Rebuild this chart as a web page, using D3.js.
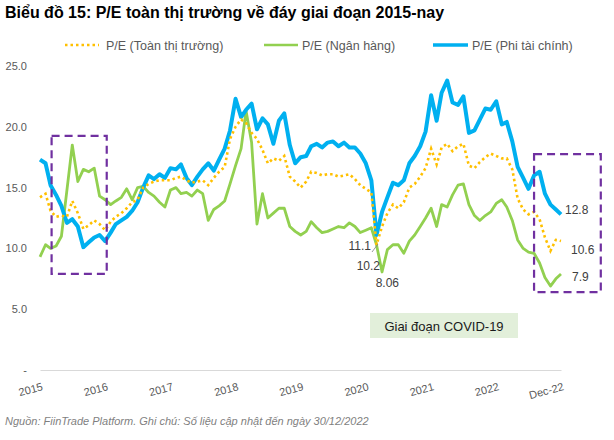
<!DOCTYPE html>
<html><head><meta charset="utf-8">
<script src="https://cdn.jsdelivr.net/npm/d3@7"></script>
<style>body{margin:0;background:#fff;} svg{display:block;font-family:"Liberation Sans",Arial,sans-serif;}</style>
</head><body><svg id="c" width="614" height="440"></svg>
<script>
// Categories: month starts Jan-2015 .. Dec-2022 plus last trading day 30/12/2022
const dates = d3.timeMonths(new Date(2015,0,1), new Date(2023,0,1)).concat([new Date(2022,11,30)]);

const peMarket = [14.2,14.5,13.1,12.6,12.7,12.6,13.9,12.9,11.6,11.9,12.3,12.0,
  11.5,12.2,12.6,12.9,13.3,13.8,14.0,15.0,15.3,15.5,15.6,15.6,
  15.6,15.8,15.9,15.6,15.4,15.5,15.6,15.2,15.8,16.3,16.7,19.0,
  20.0,20.6,20.3,19.5,19.0,18.1,17.0,17.4,17.2,17.6,15.9,15.5,
  15.0,15.5,16.3,16.2,16.0,16.1,16.1,15.9,16.0,16.1,15.7,15.2,
  14.9,14.6,10.3,11.8,12.9,13.6,13.3,13.8,15.0,15.3,15.9,16.6,
  18.2,16.9,18.3,18.6,18.0,18.4,18.6,16.8,16.6,17.1,17.5,17.8,
  17.6,17.4,17.4,16.5,14.1,13.2,12.8,13.0,12.4,10.9,9.8,10.7,10.6];

const peBanks = [9.3,10.3,10.0,10.2,11.0,14.8,18.5,15.5,16.5,16.3,16.6,14.3,
  14.0,13.6,13.9,14.2,14.9,14.0,15.0,15.1,14.6,14.3,13.8,13.4,
  14.8,15.0,14.5,14.6,14.3,14.8,14.5,12.3,13.2,13.5,13.9,15.3,
  16.8,18.2,21.3,18.7,12.0,14.5,12.5,12.9,13.3,13.3,11.8,11.4,
  11.1,11.4,12.2,11.7,11.3,11.4,11.6,11.8,11.7,12.1,11.8,11.3,
  11.5,11.7,10.3,8.06,9.9,10.3,10.3,9.6,10.6,11.1,11.8,12.5,
  13.3,11.8,13.6,13.4,14.4,15.2,15.3,13.6,12.7,12.3,12.7,13.0,
  13.7,14.0,13.4,12.3,10.7,10.0,9.7,9.6,8.8,7.6,6.9,7.5,7.9];

const peNonFin = [17.3,17.0,15.2,14.4,13.5,12.1,12.4,11.8,10.1,10.5,10.9,11.1,
  10.6,11.3,12.0,12.3,12.6,13.1,13.8,15.0,16.0,15.7,16.1,15.8,
  16.6,16.5,16.9,15.8,15.2,15.9,16.5,17.0,16.4,17.3,18.2,19.7,
  22.3,20.8,21.4,21.9,19.8,20.7,20.2,18.6,20.5,21.1,18.5,17.0,
  17.5,17.6,18.4,18.6,18.3,18.7,18.8,18.4,18.7,18.3,18.3,17.8,
  17.0,15.6,11.1,13.0,14.2,15.4,15.2,15.6,17.0,17.6,18.4,19.6,
  22.6,20.5,22.8,23.8,22.0,21.8,22.5,19.5,19.7,20.6,21.5,21.4,
  22.1,20.2,20.4,18.8,16.7,15.8,14.9,16.0,16.3,14.5,13.6,13.2,12.8];

const yTicks = [0,5,10,15,20,25];
const yTickLabels = ["-","5.0","10.0","15.0","20.0","25.0"];
const xTickDates = [2015,2016,2017,2018,2019,2020,2021,2022].map(y=>new Date(y,0,1)).concat([new Date(2022,11,30)]);
const xTickLabels = ["2015","2016","2017","2018","2019","2020","2021","2022","Dec-22"];

const seriesNames = ["P/E (Toàn thị trường)","P/E (Ngân hàng)","P/E (Phi tài chính)"];
const seriesColors = ["#FFC000","#92D050","#00B0F0"];

// highlighted periods (dashed boxes): [startDate, endDate, low, high]
const boxes = [[new Date(2015,2,7), new Date(2016,0,10), 7.9, 19.25],
               [new Date(2022,7,1), new Date(2023,7,10), 6.4, 17.75]];

const svg = d3.select("#c");
const x = d3.scaleTime().domain([new Date(2015,0,1), new Date(2022,11,30)]).range([40,561]);
const y = d3.scaleLinear().domain([0,25]).range([370,66]);

// title
svg.append("text").attr("x",5).attr("y",18).attr("font-size",16).attr("font-weight","bold")
  .attr("fill","#000").text("Biểu đồ 15: P/E toàn thị trường về đáy giai đoạn 2015-nay");

// legend
const leg = [{x1:65,x2:99,tx:106},{x1:264,x2:298,tx:302},{x1:433,x2:468,tx:472}];
leg.forEach((l,i)=>{
  const ln = svg.append("line").attr("x1",l.x1).attr("x2",l.x2).attr("y1",45).attr("y2",45)
    .attr("stroke",seriesColors[i]);
  if(i===0) ln.attr("stroke-width",2.5).attr("stroke-dasharray","2.5,3");
  else ln.attr("stroke-width",i===1?2.5:3.5);
  svg.append("text").attr("x",l.tx).attr("y",49.5).attr("font-size",12.5).attr("fill","#595959").text(seriesNames[i]);
});

// axes
const ya = svg.append("g").attr("transform","translate(27,0)")
  .call(d3.axisLeft(y).tickValues(yTicks).tickSize(0).tickPadding(0).tickFormat((d,i)=>yTickLabels[i]));
ya.select(".domain").remove();
ya.selectAll("text").attr("font-size",11).attr("fill","#595959").attr("font-family","Liberation Sans, Arial, sans-serif");

const xa = svg.append("g").attr("transform","translate(0,370)")
  .call(d3.axisBottom(x).tickValues(xTickDates).tickSize(0).tickFormat((d,i)=>xTickLabels[i]));
xa.select(".domain").attr("stroke","#d9d9d9");
xa.selectAll("text").attr("font-size",11).attr("fill","#595959")
  .attr("font-family","Liberation Sans, Arial, sans-serif")
  .attr("text-anchor","end").attr("y",0).attr("dy",0)
  .attr("transform","translate(3,20) rotate(-15)");

// lines
const line = vals => d3.line().x((d,i)=>x(dates[i])).y(d=>y(d))(vals);
svg.append("path").attr("d",line(peBanks)).attr("fill","none").attr("stroke",seriesColors[1])
  .attr("stroke-width",2.8).attr("stroke-linejoin","round");
svg.append("path").attr("d",line(peNonFin)).attr("fill","none").attr("stroke",seriesColors[2])
  .attr("stroke-width",4).attr("stroke-linejoin","round");
svg.append("path").attr("d",line(peMarket)).attr("fill","none").attr("stroke",seriesColors[0])
  .attr("stroke-width",2.6).attr("stroke-dasharray","2.5,3");

// dashed boxes
boxes.forEach(b=>{
  svg.append("rect").attr("x",x(b[0])).attr("y",y(b[3])).attr("width",x(b[1])-x(b[0])).attr("height",y(b[2])-y(b[3]))
    .attr("fill","none").attr("stroke","#7030A0").attr("stroke-width",2.2).attr("stroke-dasharray","8,5");
});

// end labels
const last = dates.length-1;
const endLab = [[peNonFin[last],"12.8",4,-5],[peMarket[last],"10.6",10,9],[peBanks[last],"7.9",11,3]];
endLab.forEach(e=>{
  svg.append("text").attr("x",x(dates[last])+e[2]).attr("y",y(e[0])+e[3]).attr("dy","0.35em")
    .attr("font-size",12).attr("fill","#404040").text(e[1]);
});

// covid bottom labels
svg.append("line").attr("x1",372).attr("y1",252).attr("x2",378).attr("y2",244).attr("stroke","#7f7f7f").attr("stroke-width",0.8);
[["11.1",371,246],["10.2",380,266],["8.06",399,283]].forEach(t=>{
  svg.append("text").attr("x",t[1]).attr("y",t[2]).attr("dy","0.35em").attr("text-anchor","end")
    .attr("font-size",12).attr("fill","#404040").text(t[0]);
});

// covid box
svg.append("rect").attr("x",370).attr("y",313).attr("width",148).attr("height",25).attr("fill","#E2EFDA");
svg.append("text").attr("x",444).attr("y",326).attr("dy","0.35em").attr("text-anchor","middle")
  .attr("font-size",13).attr("fill","#1a1a1a").text("Giai đoạn COVID-19");

// footer
svg.append("text").attr("x",5).attr("y",425).attr("font-size",11).attr("font-style","italic")
  .attr("fill","#7f7f7f").text("Nguồn: FiinTrade Platform. Ghi chú: Số liệu cập nhật đến ngày 30/12/2022");
</script></body></html>
